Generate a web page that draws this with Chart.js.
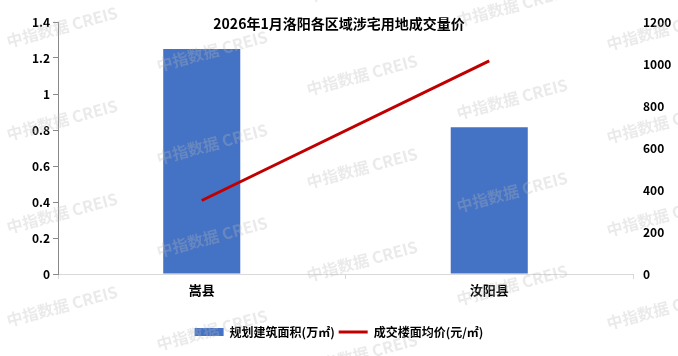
<!DOCTYPE html>
<html>
<head>
<meta charset="utf-8">
<script src="https://cdn.jsdelivr.net/npm/chart.js@4"></script>
<style>
html,body{margin:0;padding:0;background:#fff;}
#wrap{width:678px;height:356px;position:relative;}
</style>
</head>
<body>
<div id="wrap"><canvas id="c" width="678" height="356"></canvas></div>
<script>
const titleText = '2026年1月洛阳各区域涉宅用地成交量价';
const categories = ['嵩县', '汝阳县'];
const areaLabel = '规划建筑面积(万㎡)';
const areaValues = [1.25, 0.815];
const priceLabel = '成交楼面均价(元/㎡)';
const priceValues = [350, 1015];
const watermarkText = '中指数据 CREIS';

const FONT = '"Microsoft YaHei","Noto Sans CJK SC","Noto Sans",sans-serif';

const titlePlugin = {
  id: 'titleDraw',
  afterDraw(chart) {
    const ctx = chart.ctx;
    ctx.save();
    ctx.font = 'bold 14px ' + FONT;
    ctx.fillStyle = '#000';
    ctx.textAlign = 'center';
    ctx.textBaseline = 'middle';
    ctx.fillText(titleText, 339, 24);
    ctx.restore();
  }
};

const watermarkPlugin = {
  id: 'watermark',
  afterDraw(chart) {
    const ctx = chart.ctx;
    ctx.save();
    ctx.font = 'bold 16px ' + FONT;
    ctx.fillStyle = 'rgba(185,185,185,0.3)';
    ctx.textAlign = 'center';
    ctx.textBaseline = 'middle';
    for (let i = 0; i < 5; i++) {
      for (let j = -2; j < 6; j++) {
        const cx = 62 + 150 * i;
        const cy = 27 + 24 * i + 93 * j;
        if (cy < -30 || cy > 390) continue;
        ctx.save();
        ctx.translate(cx, cy);
        ctx.rotate(-15 * Math.PI / 180);
        ctx.fillText(watermarkText, 0, 0);
        ctx.restore();
      }
    }
    ctx.restore();
  }
};

new Chart(document.getElementById('c'), {
  data: {
    labels: categories,
    datasets: [
      {
        type: 'bar',
        label: areaLabel,
        data: areaValues,
        backgroundColor: '#4472C4',
        borderWidth: 0,
        yAxisID: 'y',
        order: 2,
        categoryPercentage: 1,
        barPercentage: 0.268
      },
      {
        type: 'line',
        label: priceLabel,
        data: priceValues,
        borderColor: '#C00000',
        backgroundColor: '#C00000',
        borderWidth: 3,
        pointRadius: 0,
        tension: 0,
        yAxisID: 'y1',
        order: 1
      }
    ]
  },
  options: {
    responsive: false,
    animation: false,
    devicePixelRatio: 1,
    layout: { padding: { top: 22, bottom: 8, left: 0, right: 0 } },
    plugins: {
      title: { display: false },
      tooltip: { enabled: false },
      legend: {
        position: 'bottom',
        labels: {
          usePointStyle: true,
          pointStyleWidth: 29,
          boxHeight: 8,
          padding: 4,
          color: '#000',
          font: { family: FONT, size: 12, weight: 'bold' },
          sort: (a, b) => a.datasetIndex - b.datasetIndex,
          generateLabels(chart) {
            const items = Chart.defaults.plugins.legend.labels.generateLabels(chart);
            items.forEach((it) => {
              const ds = chart.data.datasets[it.datasetIndex];
              const isLine = ds.type === 'line';
              it.pointStyle = isLine ? 'line' : 'rect';
              it.lineWidth = isLine ? 3 : 0;
              it.strokeStyle = isLine ? '#C00000' : '#4472C4';
              it.fillStyle = isLine ? '#C00000' : '#4472C4';
            });
            return items;
          }
        }
      }
    },
    scales: {
      x: {
        afterFit(s) { s.height = 48; },
        border: { display: true, color: '#d9d9d9', width: 1 },
        grid: { display: true, offset: true, drawOnChartArea: false, drawTicks: true, tickLength: 5, color: '#d9d9d9' },
        ticks: { color: '#000', padding: 3, font: { family: FONT, size: 13, weight: 'bold' } }
      },
      y: {
        position: 'left',
        min: 0, max: 1.4,
        afterFit(s) { s.width = 58; },
        border: { display: true, color: '#898989', width: 1 },
        grid: { display: true, drawOnChartArea: false, drawTicks: true, tickLength: 5, color: '#898989' },
        ticks: {
          stepSize: 0.2, color: '#000', padding: 3,
          font: { family: FONT, size: 12, weight: 'bold' },
          callback: (v) => String(Math.round(v * 10) / 10)
        }
      },
      y1: {
        position: 'right',
        min: 0, max: 1200,
        afterFit(s) { s.width = 45; },
        border: { display: false },
        grid: { display: false, drawTicks: false },
        ticks: {
          stepSize: 200, color: '#000', padding: 10,
          font: { family: FONT, size: 12, weight: 'bold' },
          callback: (v) => String(Math.round(v))
        }
      }
    }
  },
  plugins: [watermarkPlugin, titlePlugin]
});
</script>
</body>
</html>
